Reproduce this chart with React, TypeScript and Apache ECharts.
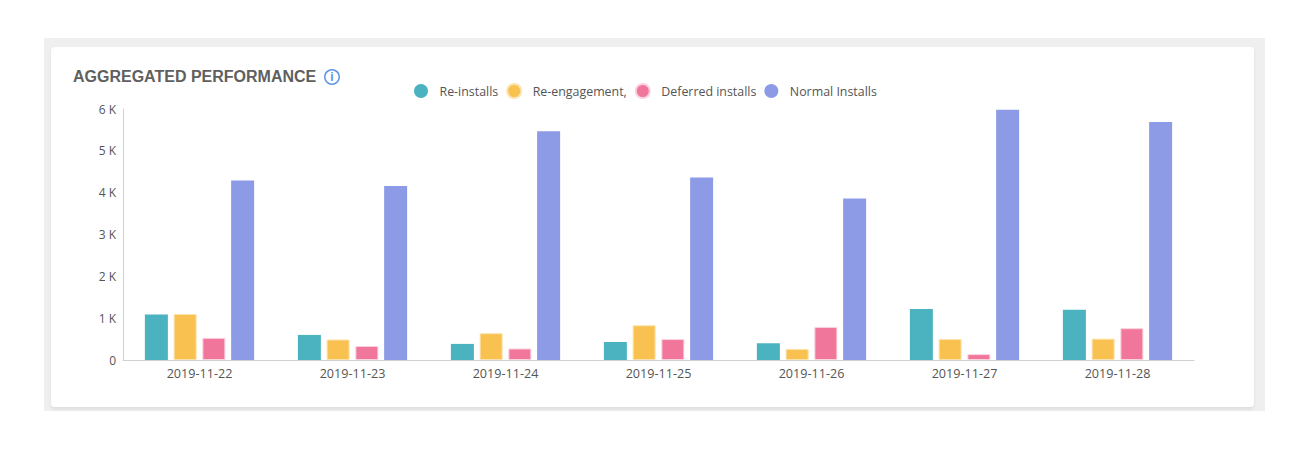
import React, { useEffect, useRef } from "react";
import * as echarts from "echarts";

const categories = ["2019-11-22", "2019-11-23", "2019-11-24", "2019-11-25", "2019-11-26", "2019-11-27", "2019-11-28"];
const reinstalls = [1090, 600, 385, 430, 400, 1220, 1200];
const reengagement = [1100, 490, 640, 830, 265, 500, 510];
const deferred = [530, 335, 275, 500, 790, 140, 760];
const normal = [4290, 4160, 5470, 4360, 3860, 5980, 5690];
const seriesNames = ["Re-installs", "Re-engagement,", "Deferred installs", "Normal Installs"];
const colors = ["#4bb2c0", "#f9c14f", "#f0769b", "#8d9be6"];
const borderColors = ["#4bb2c0", "#fce3ae", "#fad2de", "#8d9be6"];
const titleText = "AGGREGATED PERFORMANCE";
const font = "'Open Sans', 'Noto Sans', sans-serif";

export default function App() {
  const ref = useRef<HTMLDivElement>(null);
  useEffect(() => {
    document.body.style.margin = "0";
    const chart = echarts.init(ref.current!, null, { renderer: "svg" });
    const data = [reinstalls, reengagement, deferred, normal];
    chart.setOption({
      animation: false,
      backgroundColor: "#ffffff",
      color: colors,
      graphic: [
        { type: "rect", z: -10, silent: true, shape: { x: 44, y: 38, width: 1221, height: 373 }, style: { fill: "#efefef" } },
        {
          type: "rect", z: -9, silent: true,
          shape: { x: 51, y: 47, width: 1203, height: 360, r: 4 },
          style: { fill: "#ffffff", shadowBlur: 3, shadowColor: "rgba(0,0,0,0.08)", shadowOffsetY: 2 },
        },
        { type: "circle", shape: { cx: 332, cy: 77, r: 7.2 }, style: { fill: "#ffffff", stroke: "#5b93e6", lineWidth: 1.5 } },
        {
          type: "text", x: 332, y: 77,
          style: { text: "i", fill: "#5b93e6", font: "bold 12px 'Liberation Sans', Arial, sans-serif", align: "center", verticalAlign: "middle" },
        },
      ],
      title: {
        text: titleText, left: 73, top: 67, padding: 0,
        textStyle: { fontFamily: "'Liberation Sans', Arial, sans-serif", fontSize: 16, fontWeight: "bold", color: "#5f5f5f", lineHeight: 18 },
      },
      legend: {
        left: 414, top: 83, padding: 0,
        icon: "circle", itemWidth: 27, itemHeight: 14, itemGap: 8,
        data: seriesNames,
        textStyle: { fontFamily: font, fontSize: 12.4, color: "#555555" },
      },
      grid: { left: 123, right: 106, top: 109, bottom: 90, containLabel: false },
      xAxis: {
        type: "category", data: categories,
        axisLine: { lineStyle: { color: "#d0d0d0" } },
        axisTick: { show: false },
        axisLabel: { fontFamily: font, fontSize: 12.6, color: "#555555", margin: 7 },
      },
      yAxis: {
        type: "value", min: 0, max: 6000, interval: 1000,
        axisLine: { show: true, lineStyle: { color: "#d0d0d0" } },
        axisTick: { show: false },
        splitLine: { show: false },
        axisLabel: {
          fontFamily: font, fontSize: 12, color: "#555555", margin: 7, padding: [0, 0, 8, 0],
          formatter: (v: number) => (v === 0 ? "0" : `${v / 1000} K`),
        },
      },
      series: seriesNames.map((name, i) => ({
        name, type: "bar", data: data[i], barWidth: 23, barGap: "25%",
        itemStyle: { color: colors[i], borderColor: borderColors[i], borderWidth: i === 1 || i === 2 ? 1 : 0 },
      })),
    });
    return () => chart.dispose();
  }, []);
  return <div ref={ref} style={{ width: 1300, height: 450 }} />;
}
